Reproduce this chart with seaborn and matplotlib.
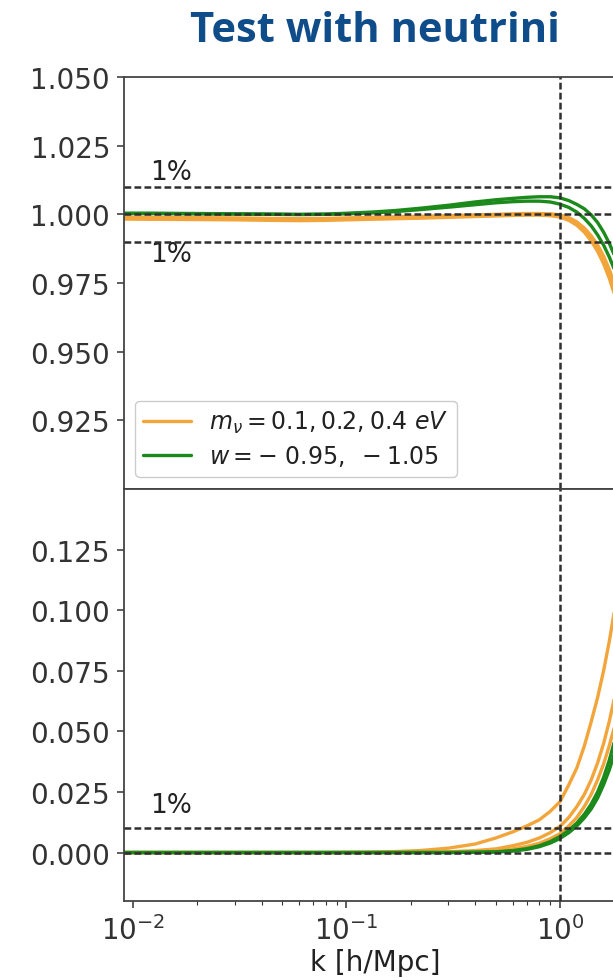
import numpy as np
import pandas as pd
import matplotlib
matplotlib.use("Agg")
import matplotlib.pyplot as plt
import seaborn as sns
from matplotlib.lines import Line2D

# ---------------- data ----------------
K = [0.008, 0.012, 0.02, 0.03, 0.045, 0.06, 0.08, 0.1, 0.13, 0.17, 0.22, 0.3,
     0.4, 0.5, 0.6, 0.7, 0.8, 0.9, 1.0, 1.1, 1.2, 1.3, 1.4, 1.5, 1.6, 1.7,
     1.8, 1.9, 2.0, 2.1]

# top panel: ratio
top_green1 = [1.0004, 1.0004, 1.0003, 1.0002, 1.0001, 1.0000, 1.0001, 1.0004, 1.0008, 1.0014,
              1.0022, 1.0033, 1.0045, 1.0053, 1.0058, 1.0062, 1.0064, 1.0064, 1.0060, 1.0050,
              1.0036, 1.0020, 0.9998, 0.9970, 0.9935, 0.9895, 0.9850, 0.9800, 0.9740, 0.9680]
top_green2 = [1.0003, 1.0003, 1.0002, 1.0001, 1.0000, 0.9999, 1.0000, 1.0002, 1.0005, 1.0010,
              1.0017, 1.0026, 1.0035, 1.0042, 1.0046, 1.0048, 1.0048, 1.0045, 1.0037, 1.0025,
              1.0008, 0.9985, 0.9958, 0.9925, 0.9888, 0.9845, 0.9798, 0.9745, 0.9685, 0.9620]
top_orange1 = [0.9990, 0.9989, 0.9988, 0.9987, 0.9985, 0.9984, 0.9985, 0.9987, 0.9989, 0.9991,
               0.9993, 0.9995, 0.9998, 1.0000, 1.0002, 1.0003, 1.0003, 1.0002, 0.9998, 0.9988,
               0.9972, 0.9950, 0.9922, 0.9888, 0.9848, 0.9800, 0.9745, 0.9685, 0.9620, 0.9550]
top_orange2 = [0.9983, 0.9982, 0.9981, 0.9980, 0.9978, 0.9977, 0.9978, 0.9980, 0.9982, 0.9984,
               0.9986, 0.9989, 0.9992, 0.9994, 0.9996, 0.9997, 0.9997, 0.9995, 0.9990, 0.9978,
               0.9960, 0.9935, 0.9903, 0.9865, 0.9820, 0.9768, 0.9708, 0.9640, 0.9568, 0.9490]
top_orange3 = [0.9986, 0.9985, 0.9984, 0.9983, 0.9981, 0.9980, 0.9981, 0.9983, 0.9985, 0.9987,
               0.9989, 0.9992, 0.9995, 0.9997, 0.9999, 1.0000, 1.0000, 0.9998, 0.9993, 0.9982,
               0.9965, 0.9942, 0.9912, 0.9876, 0.9834, 0.9784, 0.9727, 0.9662, 0.9592, 0.9515]

# bottom panel: difference
bot_orange1 = [0, 0, 0, 0, 0, 0, 0, 0.0001, 0.0002, 0.0004, 0.0008, 0.0018, 0.0035, 0.0060,
               0.0085, 0.0110, 0.0135, 0.0170, 0.0210, 0.0280, 0.0350, 0.0440, 0.0540, 0.0640,
               0.0750, 0.0870, 0.1000, 0.1140, 0.1290, 0.1450]
bot_orange2 = [0, 0, 0, 0, 0, 0, 0, 0, 0, 0, 0.0001, 0.0003, 0.0008, 0.0015, 0.0028, 0.0042,
               0.0060, 0.0082, 0.0108, 0.0145, 0.0190, 0.0240, 0.0300, 0.0370, 0.0450, 0.0540,
               0.0640, 0.0750, 0.0870, 0.1000]
bot_orange3 = [0, 0, 0, 0, 0, 0, 0, 0, 0, 0, 0, 0.0001, 0.0003, 0.0008, 0.0015, 0.0025,
               0.0038, 0.0057, 0.0078, 0.0110, 0.0145, 0.0190, 0.0240, 0.0300, 0.0365, 0.0440,
               0.0520, 0.0610, 0.0710, 0.0820]
bot_green1 = [0, 0, 0, 0, 0, 0, 0, 0, 0, 0, 0, 0, 0.0001, 0.0003, 0.0008, 0.0016, 0.0028,
              0.0045, 0.0066, 0.0092, 0.0122, 0.0158, 0.0200, 0.0250, 0.0310, 0.0380, 0.0460,
              0.0550, 0.0640, 0.0740]
bot_green2 = [0, 0, 0, 0, 0, 0, 0, 0, 0, 0, 0, 0, 0.0001, 0.0002, 0.0006, 0.0013, 0.0024,
              0.0039, 0.0058, 0.0082, 0.0110, 0.0143, 0.0180, 0.0225, 0.0280, 0.0340, 0.0410,
              0.0490, 0.0570, 0.0660]

legend_labels = [r"$m_\nu = 0.1, 0.2, 0.4\ eV$", r"$w = -\ 0.95,\ -1.05$"]
title_text = "Test with neutrini"
xlabel_text = "k [h/Mpc]"
top_yticks = [0.925, 0.950, 0.975, 1.000, 1.025, 1.050]
bot_yticks = [0.000, 0.025, 0.050, 0.075, 0.100, 0.125]

# ---------------- style ----------------
sns.set_theme(style="ticks")
plt.rcParams["font.family"] = ["DejaVu Sans"]
plt.rcParams["axes.edgecolor"] = "#444444"
plt.rcParams["xtick.color"] = "#333333"
plt.rcParams["ytick.color"] = "#333333"

ORANGE = "#F2A53A"
GREEN = "#1B8A1B"
DASH = "#2e2e2e"
DASHES = (2.7, 1.3)

fig = plt.figure(figsize=(6.13, 9.79), dpi=100)
W, H = 613.0, 979.0
left = 124 / W
width = 502 / W
ax_top = fig.add_axes([left, (H - 490) / H, width, 412 / H])
ax_bot = fig.add_axes([left, (H - 902) / H, width, 412 / H], sharex=ax_top)

for vals, col in [(top_orange1, ORANGE), (top_orange2, ORANGE), (top_orange3, ORANGE),
                  (top_green1, GREEN), (top_green2, GREEN)]:
    sns.lineplot(x=K, y=vals, color=col, lw=2.4, ax=ax_top, legend=False)

for vals, col in [(bot_orange1, ORANGE), (bot_orange2, ORANGE), (bot_orange3, ORANGE),
                  (bot_green1, GREEN), (bot_green2, GREEN)]:
    sns.lineplot(x=K, y=vals, color=col, lw=2.4, ax=ax_bot, legend=False)

for ax in (ax_top, ax_bot):
    ax.set_xscale("log")
    ax.set_xlim(10 ** -2.042, 10 ** 0.309)
    ax.axvline(1.0, color=DASH, ls="--", dashes=DASHES, lw=1.8, zorder=5)
    ax.tick_params(axis="both", which="major", labelsize=20, length=5, width=1.1, pad=5)
    ax.tick_params(axis="x", which="minor", length=3, width=0.8)
    for s in ax.spines.values():
        s.set_linewidth(1.3)

for yv in (1.01, 1.0, 0.99):
    ax_top.axhline(yv, color=DASH, ls="--", dashes=DASHES, lw=1.8, zorder=5)
for yv in (0.01, 0.0):
    ax_bot.axhline(yv, color=DASH, ls="--", dashes=DASHES, lw=1.8, zorder=5)

ax_top.set_ylim(0.9, 1.05)
ax_top.set_yticks(top_yticks)
ax_top.set_yticklabels([f"{v:.3f}" for v in top_yticks])
ax_top.tick_params(axis="x", which="both", labelbottom=False)

ax_bot.set_ylim(-0.02, 0.15)
ax_bot.set_yticks(bot_yticks)
ax_bot.set_yticklabels([f"{v:.3f}" for v in bot_yticks])
ax_bot.set_xlabel(xlabel_text, fontsize=20, color="#222222", labelpad=2)

ax_top.set_ylabel("")
ax_bot.set_ylabel("")

# 1% annotations
ax_top.text(0.012, 1.0153, "1%", fontsize=19, va="center", ha="left", color="#222222")
ax_top.text(0.012, 0.9857, "1%", fontsize=19, va="center", ha="left", color="#222222")
ax_bot.text(0.012, 0.0195, "1%", fontsize=19, va="center", ha="left", color="#222222")

handles = [Line2D([], [], color=ORANGE, lw=2.4), Line2D([], [], color=GREEN, lw=2.4)]
leg = ax_top.legend(handles, legend_labels, loc="lower left", bbox_to_anchor=(0.022, 0.03),
                    borderaxespad=0, fontsize=17, frameon=True, fancybox=True,
                    handlelength=2.0, framealpha=1.0, edgecolor="#cccccc",
                    labelspacing=0.35, borderpad=0.35)
for t in leg.get_texts():
    t.set_color("#222222")

fig.text(375 / W, 1 - 31 / H, title_text, ha="center", va="center", fontsize=30,
         fontweight="bold", color="#0F4C8A", family=["Open Sans", "DejaVu Sans"])

fig.savefig("out.png", dpi=100)
